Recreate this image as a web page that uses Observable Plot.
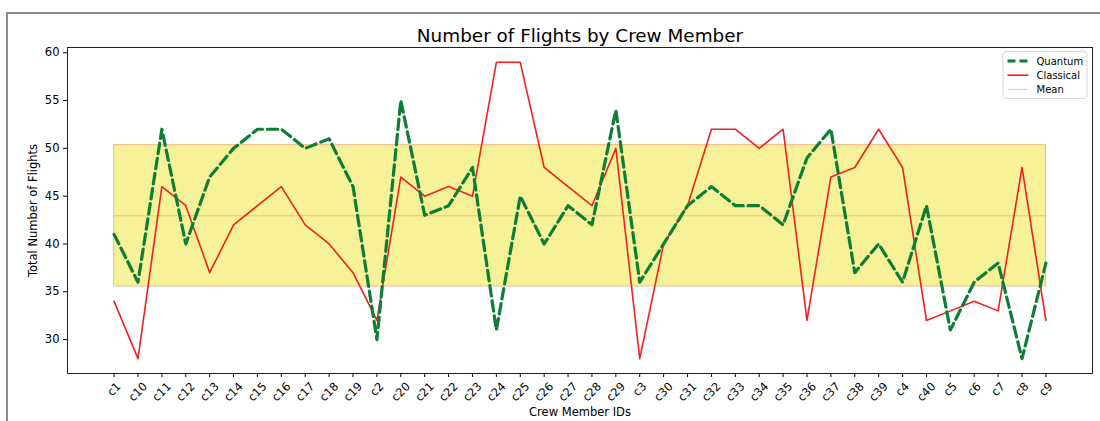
<!DOCTYPE html>
<html>
<head>
<meta charset="utf-8">
<script src="https://cdn.jsdelivr.net/npm/d3@7"></script>
<script src="https://cdn.jsdelivr.net/npm/@observablehq/plot@0.6"></script>
<style>
  html, body { margin: 0; padding: 0; background: #fff; overflow: hidden; }
  #wrap { position: relative; width: 1100px; height: 421px; }
  #frame { position: absolute; left: 6px; top: 12px; width: 1110px; height: 430px;
           border-left: 2px solid #8c8c8c; border-top: 2px solid #8c8c8c; }
  #chart { position: absolute; left: 0; top: 0; }
</style>
</head>
<body>
<div id="wrap"><div id="frame"></div><div id="chart"></div></div>
<script>
// ---- data ----
const ids = ["c1","c10","c11","c12","c13","c14","c15","c16","c17","c18","c19",
             "c2","c20","c21","c22","c23","c24","c25","c26","c27","c28","c29",
             "c3","c30","c31","c32","c33","c34","c35","c36","c37","c38","c39",
             "c4","c40","c5","c6","c7","c8","c9"];
const quantum = [41,36,52,40,47,50,52,52,50,51,46,
                 30,55,43,44,48,31,45,40,44,42,54,
                 36,40,44,46,44,44,42,49,52,37,40,
                 36,44,31,36,38,28,38];
const classical = [34,28,46,44,37,42,44,46,42,40,37,
                   32,47,45,46,45,59,59,48,46,44,50,
                   28,40,44,52,52,50,52,32,47,48,52,
                   48,32,33,34,33,48,32];
const meanValue = 42.95;
const bandLow = 35.57;
const bandHigh = 50.34;
const yTicks = [30,35,40,45,50,55,60];
const legendLabels = ["Quantum","Classical","Mean"];
const titleText = "Number of Flights by Crew Member";
const xLabel = "Crew Member IDs";
const yLabel = "Total Number of Flights";

// ---- styles ----
const GREEN = "#0e7d36";
const RED = "#ee2222";
const MEAN = "#ff7f50";

const rowsQ = ids.map((id, i) => ({id, v: quantum[i]}));
const rowsC = ids.map((id, i) => ({id, v: classical[i]}));
const rowsB = ids.map(id => ({id, lo: bandLow, hi: bandHigh, m: meanValue}));
const short = ids.filter(d => d.length === 2);
const long = ids.filter(d => d.length !== 2);

const font = "DejaVu Sans, Liberation Sans, sans-serif";

const chart = Plot.plot({
  width: 1100,
  height: 421,
  marginLeft: 67,
  marginRight: 8,
  marginTop: 47,
  marginBottom: 48,
  style: {fontFamily: font, fontSize: "11.5px", background: "transparent", color: "#000", overflow: "visible"},
  x: {type: "point", domain: ids, padding: 1.95, label: null},
  y: {domain: [26.45, 60.55], label: null},
  marks: [
    Plot.areaY(rowsB, {x: "id", y1: "lo", y2: "hi", fill: "#f7f297", fillOpacity: 1,
                       stroke: "#f4c29a", strokeWidth: 1.2}),
    Plot.lineY(rowsB, {x: "id", y: "m", stroke: MEAN, strokeOpacity: 0.45, strokeWidth: 1.2}),
    Plot.lineY(rowsC, {x: "id", y: "v", stroke: RED, strokeWidth: 1.6}),
    Plot.lineY(rowsQ, {x: "id", y: "v", stroke: GREEN, strokeWidth: 3.2, strokeDasharray: "10.5,4.8"}),
    Plot.frame({stroke: "#222", strokeWidth: 1}),
    Plot.axisY({ticks: yTicks, tickSize: 4, tickPadding: 4, label: null, fontSize: 11.5}),
    Plot.axisX({tickSize: 4, tickFormat: () => "", label: null}),
    Plot.text(short, {x: d => d, frameAnchor: "bottom", dy: 15.8, rotate: -45,
                      textAnchor: "middle", lineAnchor: "middle", fontSize: 11.5}),
    Plot.text(long, {x: d => d, frameAnchor: "bottom", dy: 18.4, rotate: -45,
                     textAnchor: "middle", lineAnchor: "middle", fontSize: 11.5}),
    Plot.text([xLabel], {frameAnchor: "bottom", dy: 39, lineAnchor: "middle", fontSize: 11.5}),
    Plot.text([yLabel], {frameAnchor: "left", dx: -34, rotate: -90, lineAnchor: "middle",
                         textAnchor: "middle", fontSize: 11.5}),
    Plot.text([titleText], {frameAnchor: "top", dy: -11, lineAnchor: "middle", fontSize: 18.4})
  ]
});
document.getElementById("chart").appendChild(chart);

// ---- legend ----
const svg = d3.select(chart);
const lg = svg.append("g").attr("font-family", font).attr("font-size", 10).attr("text-anchor", "start");
lg.append("rect").attr("x", 1003).attr("y", 51.5).attr("width", 84).attr("height", 47)
  .attr("rx", 3).attr("fill", "#fff").attr("fill-opacity", 0.8).attr("stroke", "#d6d6d6");
const legendStyles = [
  {stroke: GREEN, width: 3.2, dash: "8,4", op: 1},
  {stroke: RED, width: 1.6, dash: null, op: 1},
  {stroke: MEAN, width: 1.2, dash: null, op: 0.45}
];
legendLabels.forEach((lab, i) => {
  const y = 61 + i * 14.2;
  const s = legendStyles[i];
  lg.append("line").attr("x1", 1007.5).attr("x2", 1028.5).attr("y1", y).attr("y2", y)
    .attr("stroke", s.stroke).attr("stroke-width", s.width).attr("stroke-opacity", s.op)
    .attr("stroke-dasharray", s.dash);
  lg.append("text").attr("x", 1036.5).attr("y", y).attr("dy", "0.35em")
    .attr("text-anchor", "start").attr("fill", "#000").text(lab);
});
</script>
</body>
</html>
